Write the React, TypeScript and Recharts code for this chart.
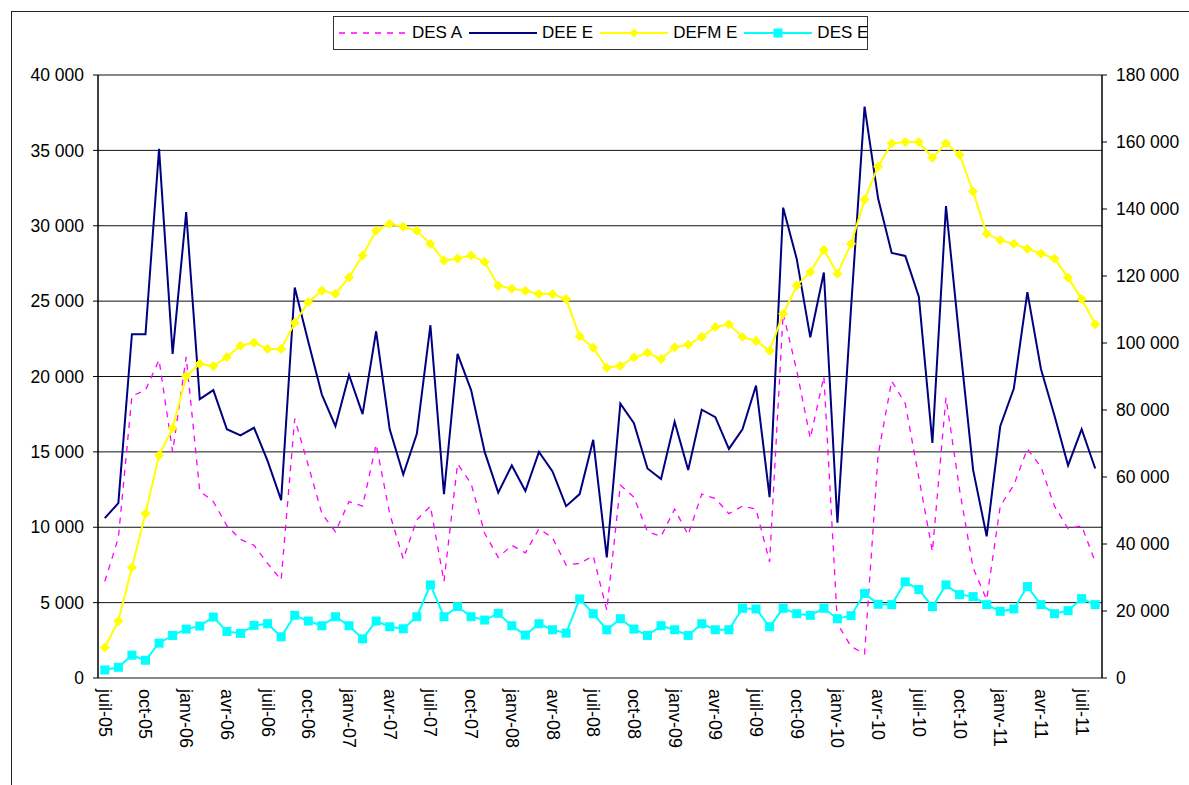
import React from "react";
import { LineChart, Line, XAxis, YAxis, CartesianGrid } from "recharts";

// monthly series, juil-05 .. août-11
const months = [
  "juil-05", "août-05", "sept-05", "oct-05", "nov-05", "déc-05",
  "janv-06", "févr-06", "mars-06", "avr-06", "mai-06", "juin-06",
  "juil-06", "août-06", "sept-06", "oct-06", "nov-06", "déc-06",
  "janv-07", "févr-07", "mars-07", "avr-07", "mai-07", "juin-07",
  "juil-07", "août-07", "sept-07", "oct-07", "nov-07", "déc-07",
  "janv-08", "févr-08", "mars-08", "avr-08", "mai-08", "juin-08",
  "juil-08", "août-08", "sept-08", "oct-08", "nov-08", "déc-08",
  "janv-09", "févr-09", "mars-09", "avr-09", "mai-09", "juin-09",
  "juil-09", "août-09", "sept-09", "oct-09", "nov-09", "déc-09",
  "janv-10", "févr-10", "mars-10", "avr-10", "mai-10", "juin-10",
  "juil-10", "août-10", "sept-10", "oct-10", "nov-10", "déc-10",
  "janv-11", "févr-11", "mars-11", "avr-11", "mai-11", "juin-11",
  "juil-11", "août-11",
];

// left axis
const desA = [
  6400, 9300, 18700, 19100, 21100, 15000, 21300, 12400, 11700, 10100, 9200, 8800,
  7600, 6500, 17200, 14100, 10900, 9700, 11700, 11400, 15500, 10900, 7900, 10500,
  11400, 6400, 14200, 12900, 9600, 8000, 8800, 8300, 9900, 9300, 7500, 7600,
  8100, 4500, 12800, 12000, 9700, 9400, 11200, 9500, 12200, 11900, 10900, 11400,
  11200, 7700, 24200, 20400, 15900, 20000, 3600, 2100, 1600, 14800, 19700, 18200,
  13300, 8400, 18600, 12500, 7300, 5200, 11400, 12800, 15200, 14000, 11400, 9900,
  10100, 7700,
];
const deeE = [
  10600, 11600, 22800, 22800, 35100, 21500, 30900, 18500, 19100, 16500, 16100, 16600,
  14400, 11800, 25900, 22300, 18800, 16700, 20100, 17500, 23000, 16500, 13500, 16200,
  23400, 12200, 21500, 19100, 15000, 12300, 14100, 12400, 15000, 13700, 11400, 12200,
  15800, 8000, 18200, 16900, 13900, 13200, 17000, 13800, 17800, 17300, 15200, 16500,
  19400, 12000, 31200, 27800, 22600, 26900, 10300, 24500, 37900, 31800, 28200, 28000,
  25300, 15600, 31300, 22400, 13800, 9400, 16700, 19200, 25600, 20500, 17400, 14100,
  16500, 13900,
];

// right axis
const defmE = [
  9100, 17000, 33000, 49100, 66500, 74600, 90100, 93800, 93100, 95800, 99200, 100100,
  98200, 98200, 106000, 112200, 115600, 114700, 119600, 126100, 133500, 135600, 134700, 133500,
  129600, 124600, 125200, 126100, 124200, 117100, 116200, 115600, 114600, 114600, 113100, 102000,
  98600, 92600, 93200, 95700, 97100, 95200, 98700, 99500, 101800, 104800, 105600, 101800,
  100600, 97700, 108700, 117100, 121200, 127800, 120700, 129600, 142800, 152700, 159600, 160000,
  160000, 155300, 159600, 156200, 145200, 132600, 130700, 129600, 128100, 126700, 125200, 119500,
  113100, 105600,
];
const desE = [
  2400, 3200, 6800, 5300, 10400, 12700, 14600, 15500, 18200, 13900, 13300, 15700,
  16200, 12300, 18700, 17000, 15600, 18300, 15600, 11700, 17000, 15300, 14700, 18300,
  27800, 18300, 21300, 18300, 17300, 19300, 15600, 12800, 16200, 14400, 13400, 23600,
  19200, 14400, 17700, 14600, 12700, 15600, 14400, 12700, 16200, 14400, 14400, 20800,
  20600, 15300, 20800, 19200, 18700, 20800, 17700, 18600, 25200, 22000, 21900, 28700,
  26400, 21300, 27800, 24900, 24300, 21900, 19900, 20600, 27300, 21900, 19200, 20100,
  23700, 21900,
];

const leftTicks = [0, 5000, 10000, 15000, 20000, 25000, 30000, 35000, 40000];
const rightTicks = [0, 20000, 40000, 60000, 80000, 100000, 120000, 140000, 160000, 180000];

const data = months.map((m, i) => ({
  i,
  month: m,
  desA: desA[i],
  deeE: deeE[i],
  defmE: defmE[i],
  desE: desE[i],
}));

const labelTicks = months.map((_, i) => i).filter((i) => i % 3 === 0);
const sepTicks = months.map((_, i) => i - 0.5).concat(months.length - 0.5);
const xDomain = [-0.5, months.length - 0.5];

const FONT = "'Liberation Sans', Arial, sans-serif";
const fmt = (v: number) => String(v).replace(/\B(?=(\d{3})+(?!\d))/g, " ");

const CrossTick = (p: any) => (
  <line x1={p.x} x2={p.x} y1={p.y - 4} y2={p.y + 4} stroke="#000" strokeWidth={1} />
);

const MonthTick = (p: any) => (
  <text
    transform={`translate(${p.x},${p.y}) rotate(90)`}
    textAnchor="start"
    dominantBaseline="central"
    fill="#000"
    fontSize={18}
    fontFamily={FONT}
  >
    {months[p.payload.value]}
  </text>
);

const Diamond = (p: any) => {
  const { cx, cy } = p;
  if (cx == null || cy == null) return null;
  const r = 4.5;
  return (
    <polygon
      points={`${cx},${cy - r} ${cx + r},${cy} ${cx},${cy + r} ${cx - r},${cy}`}
      fill="#FFFF00"
      stroke="#FFFF00"
    />
  );
};

const Square = (p: any) => {
  const { cx, cy } = p;
  if (cx == null || cy == null) return null;
  return <rect x={cx - 4.5} y={cy - 4.5} width={9} height={9} fill="#00FFFF" />;
};

const legendItems = [
  { name: "DES A", color: "#FF00FF", dash: "6 6", marker: "" },
  { name: "DEE E", color: "#000080", dash: "", marker: "" },
  { name: "DEFM E", color: "#FFFF00", dash: "", marker: "diamond" },
  { name: "DES E", color: "#00FFFF", dash: "", marker: "square" },
];

const Legend = () => (
  <div
    style={{
      position: "absolute",
      left: 333,
      top: 16,
      width: 535,
      height: 34,
      border: "1px solid #333",
      display: "flex",
      alignItems: "center",
      paddingLeft: 5,
      boxSizing: "border-box",
      fontFamily: FONT,
      fontSize: 17,
      color: "#000",
      background: "#fff",
      whiteSpace: "nowrap",
    }}
  >
    {legendItems.map((it) => (
      <div
        key={it.name}
        style={{ display: "flex", alignItems: "center", marginRight: 7, flexShrink: 0 }}
      >
        <svg width={68} height={12} style={{ marginRight: 5, flexShrink: 0 }}>
          <line
            x1={0}
            x2={68}
            y1={6}
            y2={6}
            stroke={it.color}
            strokeWidth={it.dash ? 1.3 : 2}
            strokeDasharray={it.dash || undefined}
          />
          {it.marker === "diamond" && (
            <polygon points="34,1.5 38.5,6 34,10.5 29.5,6" fill={it.color} />
          )}
          {it.marker === "square" && <rect x={29.5} y={1.5} width={9} height={9} fill={it.color} />}
        </svg>
        <span>{it.name}</span>
      </div>
    ))}
  </div>
);

export default function App() {
  return (
    <div
      style={{
        position: "absolute",
        left: 0,
        top: 0,
        width: 1189,
        height: 785,
        overflow: "hidden",
        background: "#fff",
        fontFamily: FONT,
      }}
    >
      {/* chart frame, only top and left edges fall inside the window */}
      <div
        style={{
          position: "absolute",
          left: 11,
          top: 11,
          width: 1300,
          height: 900,
          borderLeft: "1.5px solid #222",
          borderTop: "1.5px solid #222",
        }}
      />
      <div style={{ position: "absolute", left: 0, top: 0 }}>
        <LineChart
          width={1189}
          height={785}
          data={data}
          margin={{ top: 75, right: 0, bottom: 0, left: 0 }}
        >
          <CartesianGrid
            xAxisId="m"
            yAxisId="l"
            vertical={false}
            stroke="#111"
            strokeWidth={1}
          />
          <XAxis
            xAxisId="m"
            type="number"
            dataKey="i"
            domain={xDomain}
            ticks={sepTicks}
            interval={0}
            height={0}
            tickSize={0}
            tickMargin={0}
            tickLine={false}
            tick={<CrossTick />}
            axisLine={{ stroke: "#000", strokeWidth: 1.5 }}
          />
          <XAxis
            xAxisId="lab"
            type="number"
            dataKey="i"
            domain={xDomain}
            ticks={labelTicks}
            interval={0}
            height={107}
            tickSize={0}
            tickMargin={11}
            tickLine={false}
            axisLine={false}
            tick={<MonthTick />}
          />
          <YAxis
            yAxisId="l"
            orientation="left"
            width={98}
            domain={[0, 40000]}
            ticks={leftTicks}
            interval={0}
            tickFormatter={fmt}
            tickSize={5}
            tickMargin={9}
            axisLine={{ stroke: "#000", strokeWidth: 1.5 }}
            tickLine={{ stroke: "#000" }}
            tick={{ fill: "#000", fontSize: 17.5, fontFamily: FONT }}
          />
          <YAxis
            yAxisId="r"
            orientation="right"
            width={87}
            domain={[0, 180000]}
            ticks={rightTicks}
            interval={0}
            tickFormatter={fmt}
            tickSize={5}
            tickMargin={9}
            axisLine={{ stroke: "#000", strokeWidth: 1.5 }}
            tickLine={{ stroke: "#000" }}
            tick={{ fill: "#000", fontSize: 17.5, fontFamily: FONT }}
          />
          <Line
            xAxisId="lab"
            yAxisId="l"
            type="linear"
            dataKey="desA"
            stroke="#FF00FF"
            strokeWidth={1.3}
            strokeDasharray="6 6"
            dot={false}
            isAnimationActive={false}
          />
          <Line
            xAxisId="m"
            yAxisId="l"
            type="linear"
            dataKey="deeE"
            stroke="#000080"
            strokeWidth={2}
            dot={false}
            isAnimationActive={false}
          />
          <Line
            xAxisId="m"
            yAxisId="r"
            type="linear"
            dataKey="defmE"
            stroke="#FFFF00"
            strokeWidth={2}
            dot={<Diamond />}
            isAnimationActive={false}
          />
          <Line
            xAxisId="m"
            yAxisId="r"
            type="linear"
            dataKey="desE"
            stroke="#00FFFF"
            strokeWidth={2}
            dot={<Square />}
            isAnimationActive={false}
          />
        </LineChart>
      </div>
      <Legend />
    </div>
  );
}
